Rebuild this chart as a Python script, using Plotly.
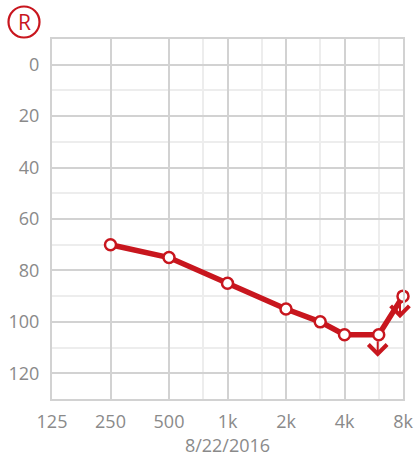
import math
import plotly.graph_objects as go

freqs = [250, 500, 1000, 2000, 3000, 4000, 6000, 8000]
thresholds = [70, 75, 85, 95, 100, 105, 105, 90]
no_response = [False, False, False, False, False, False, True, True]
x_tickvals = [125, 250, 500, 1000, 2000, 4000, 8000]
x_ticktext = ["125", "250", "500", "1k", "2k", "4k", "8k"]
x_minor = [750, 1500, 3000, 6000]
y_tickvals = [0, 20, 40, 60, 80, 100, 120]
date_label = "8/22/2016"

RED = "#c8161e"
GRID = "#d2d2d2"
MINOR = "#ededed"
TXT = "#8a8a8a"
FONT = "Open Sans, Noto Sans, sans-serif"

fig = go.Figure()
fig.add_trace(go.Scatter(
    x=freqs, y=thresholds, mode="lines+markers",
    line=dict(color=RED, width=5.5),
    marker=dict(symbol="circle", size=11, color="white",
                line=dict(color=RED, width=2.5)),
    cliponaxis=False, hoverinfo="skip", showlegend=False,
))

for f, t, nr in zip(freqs, thresholds, no_response):
    if nr:
        fig.add_annotation(
            x=math.log10(f), y=t, xref="x", yref="y",
            text="", showarrow=True, arrowhead=4, arrowsize=1.8,
            arrowwidth=2, arrowcolor=RED,
            ax=0, ay=-17, standoff=0, startstandoff=0,
            yshift=-22, xshift=(-3 if f == 8000 else -1),
        )

W, H = 415, 460
ml, mr, mt, mb = 52, 12, 39, 61
pw, ph = W - ml - mr, H - mt - mb
cx, cy, r = 24, 22, 15.5
fig.add_shape(type="circle", xref="paper", yref="paper",
              x0=(cx - r - ml) / pw, x1=(cx + r - ml) / pw,
              y0=(H - mb - (cy + r)) / ph, y1=(H - mb - (cy - r)) / ph,
              line=dict(color=RED, width=2.2), fillcolor="white", layer="above")
fig.add_annotation(xref="paper", yref="paper",
                   x=(cx - ml) / pw, y=(H - mb - cy) / ph,
                   text="R", showarrow=False,
                   font=dict(family=FONT, size=21, color=RED),
                   xanchor="center", yanchor="middle")

fig.update_layout(
    width=W, height=H,
    margin=dict(l=ml, r=mr, t=mt, b=mb, autoexpand=False),
    paper_bgcolor="white", plot_bgcolor="white",
    font=dict(family=FONT, size=18, color=TXT),
    xaxis=dict(
        type="log", range=[math.log10(125), math.log10(8000)],
        tickvals=x_tickvals, ticktext=x_ticktext,
        showgrid=True, gridcolor=GRID, gridwidth=2,
        minor=dict(tickvals=x_minor, showgrid=True, gridcolor=MINOR, gridwidth=2),
        showline=True, linecolor=GRID, linewidth=2, mirror=True,
        ticks="outside", ticklen=5, tickcolor="rgba(0,0,0,0)",
        zeroline=False, fixedrange=True, automargin=False,
        title=dict(text=date_label, standoff=0, font=dict(size=18, color=TXT)),
    ),
    yaxis=dict(
        range=[130, -10], tickvals=y_tickvals,
        showgrid=True, gridcolor=GRID, gridwidth=2,
        minor=dict(dtick=10, tick0=0, showgrid=True, gridcolor=MINOR, gridwidth=2),
        showline=True, linecolor=GRID, linewidth=2, mirror=True,
        ticks="outside", ticklen=7, tickcolor="rgba(0,0,0,0)",
        zeroline=False, fixedrange=True, automargin=False,
    ),
)

fig.write_html("out.html", config={"displayModeBar": False},
               post_script="document.body.style.margin='0';document.body.style.overflow='hidden';")
